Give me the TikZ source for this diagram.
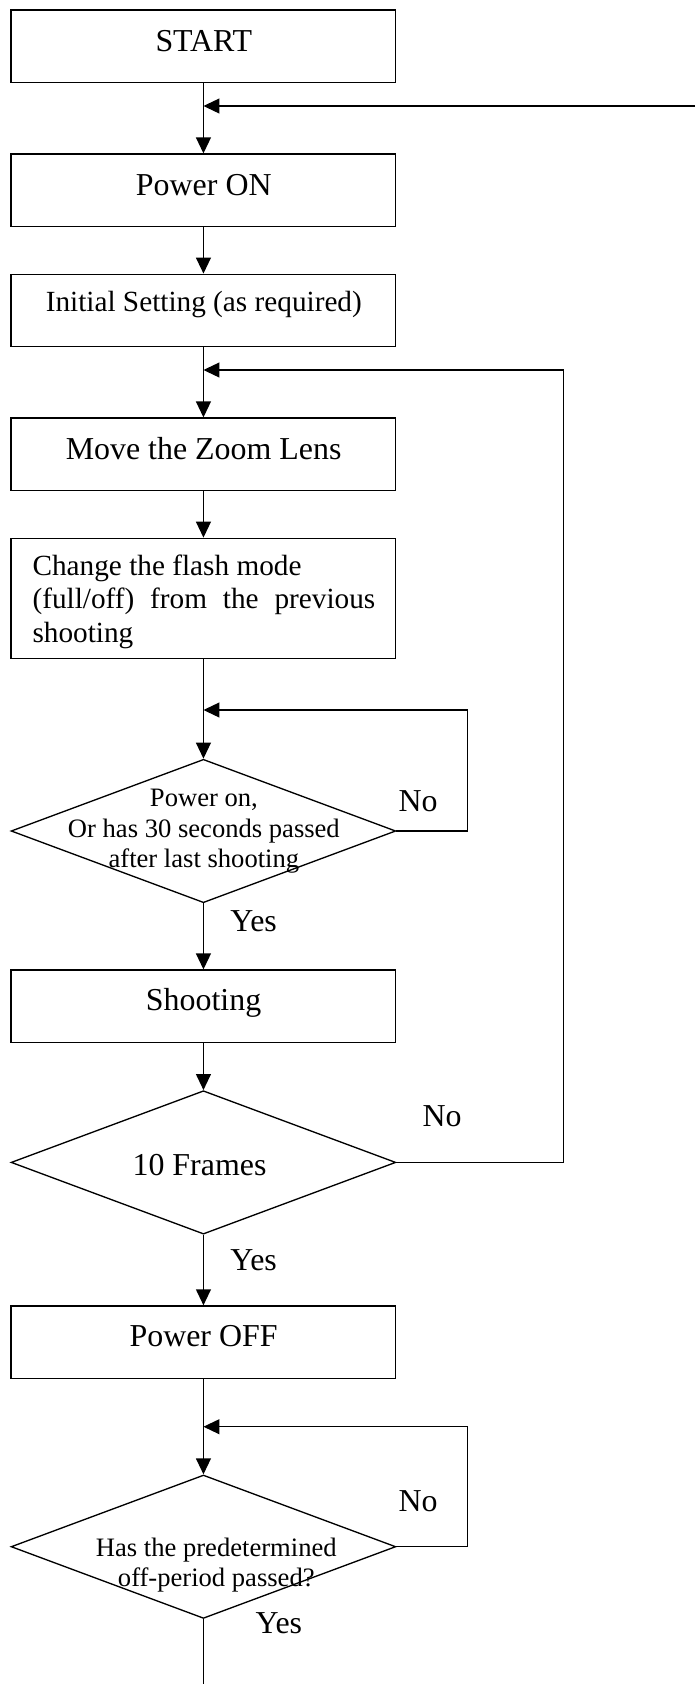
\documentclass[tikz,border=0pt]{standalone}
\usepackage{fontspec}
\setmainfont{Liberation Serif}
\usetikzlibrary{shapes.geometric,arrows.meta}
\begin{document}
\begin{tikzpicture}[x=0.376pt,y=-0.376pt,
  line width=0.5pt,
  procbox/.style={draw, rectangle, minimum width=144.65pt, minimum height=27.26pt, inner sep=0pt},
  decbox/.style={draw, diamond, minimum width=144.65pt, minimum height=53.92pt, inner sep=0pt},
  big/.style={inner sep=0pt, anchor=base, font=\fontsize{12}{14}\selectfont},
  mid/.style={inner sep=0pt, anchor=base, font=\fontsize{11}{12.78}\selectfont},
  small/.style={inner sep=0pt, anchor=base, font=\fontsize{10}{11.45}\selectfont},
  side/.style={inner sep=0pt, anchor=base west, font=\fontsize{12}{14}\selectfont},
  flow/.style={-{Triangle[length=6pt,width=5.6pt]}},
]
\useasboundingbox (0,0) rectangle (695,1684);

% boxes
\node[procbox] (start) at (203.45,46.3) {};
\node[procbox] (pon)   at (203.45,190.3) {};
\node[procbox] (init)  at (203.45,310.5) {};
\node[procbox] (move)  at (203.45,454.3) {};
\node[procbox, minimum height=45.12pt] (chg) at (203.45,598.3) {};
\node[decbox]  (d1)    at (203.45,831) {};
\node[procbox] (shoot) at (203.45,1006.3) {};
\node[decbox]  (d2)    at (203.45,1162.4) {};
\node[procbox] (poff)  at (203.45,1342.2) {};
\node[decbox]  (d3)    at (203.45,1546.7) {};

% texts
\node[big] (tstart) at (203.8,51.7) {START};
\node[big] (tpon)   at (203.8,195) {Power ON};
\node[mid] (tinit)  at (203.8,311.7) {Initial Setting (as required)};
\node[big] (tmove)  at (203.6,459) {Move the Zoom Lens};
\node[inner sep=0pt, anchor=base west, font=\fontsize{11}{12.78}\selectfont] (tchg) at (31.9,575)
  {\parbox[t]{128.86pt}{Change the flash mode\\ (full/off) from the previous shooting}};
\node[small] (td1) at (203.9,806.8)
  {\parbox[t]{140pt}{\centering Power on,\\ Or has 30 seconds passed\\ after last shooting}};
\node[big] (tshoot) at (203.6,1010) {Shooting};
\node[big] (td2)    at (199.5,1175) {10 Frames};
\node[big] (tpoff)  at (203.6,1346) {Power OFF};
\node[small] (td3) at (216.3,1556)
  {\parbox[t]{140pt}{\centering Has the predetermined\\ off-period passed?}};

\node[side] (no1)  at (398,811.7) {No};
\node[side] (yes1) at (229.8,931.7) {Yes};
\node[side] (no2)  at (422,1126) {No};
\node[side] (yes2) at (229.8,1270) {Yes};
\node[side] (no3)  at (398,1511.7) {No};
\node[side] (yes3) at (255,1633) {Yes};

% helper coordinates
\coordinate (m0) at (695,106);
\coordinate (r2) at (563.8,370);
\coordinate (r1) at (467.6,710);
\coordinate (r3) at (467.6,1426.7);
\coordinate (endpt) at (203.45,1684);

% connectors
\draw[flow] (start.south) -- (pon.north);
\draw[flow] (m0) -- (m0 -| start.south);
\draw[flow] (pon.south) -- (init.north);
\draw[flow] (init.south) -- (move.north);
\draw[flow] (move.south) -- (chg.north);
\draw[flow] (chg.south) -- (d1.north);
\draw[flow] (d1.south) -- (shoot.north);
\draw[flow] (shoot.south) -- (d2.north);
\draw[flow] (d2.south) -- (poff.north);
\draw[flow] (poff.south) -- (d3.north);
\draw (d3.south) -- (endpt);

\draw[flow] (d1.east) -| (r1) -- (r1 -| chg.south);
\draw[flow] (d2.east) -| (r2) -- (r2 -| init.south);
\draw[flow] (d3.east) -| (r3) -- (r3 -| poff.south);
\end{tikzpicture}
\end{document}
